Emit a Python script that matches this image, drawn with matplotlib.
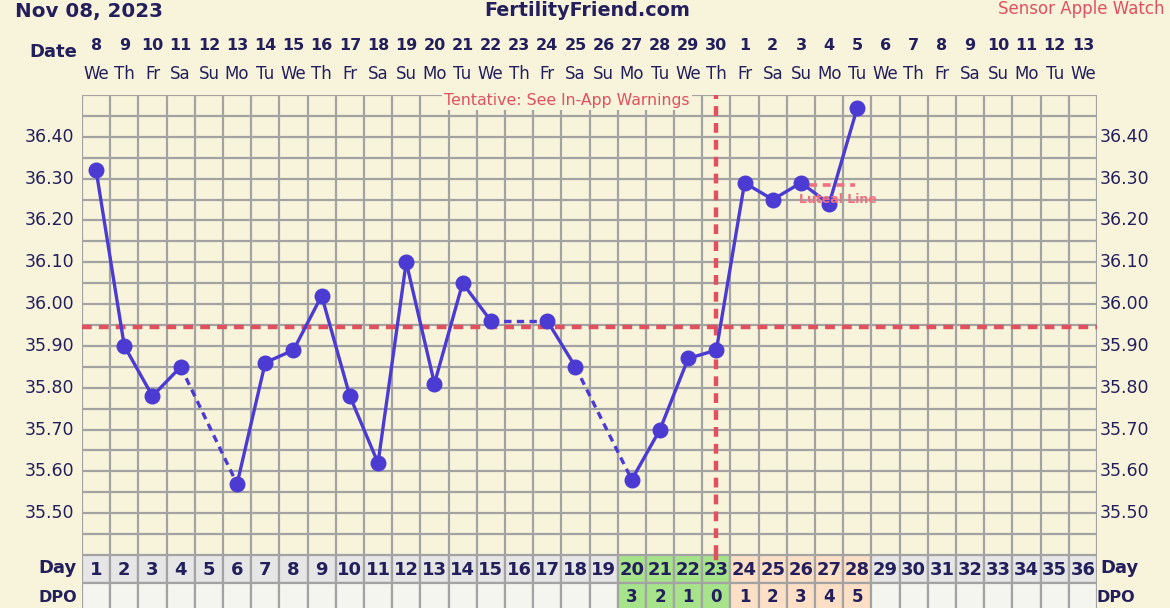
import matplotlib
matplotlib.use("Agg")
import matplotlib.pyplot as plt
import matplotlib.transforms as mtransforms
import numpy as np

# ---------------- data ----------------
cycle_days = list(range(1, 37))
date_nums = [8, 9, 10, 11, 12, 13, 14, 15, 16, 17, 18, 19, 20, 21, 22, 23, 24, 25, 26,
             27, 28, 29, 30, 1, 2, 3, 4, 5, 6, 7, 8, 9, 10, 11, 12, 13]
weekdays = (["We", "Th", "Fr", "Sa", "Su", "Mo", "Tu"] * 6)[:36]
# temperatures per cycle day (None = not recorded)
temps = [36.32, 35.90, 35.78, 35.85, None, 35.57, 35.86, 35.89, 36.02, 35.78,
         35.62, 36.10, 35.81, 36.05, 35.96, None, 35.96, 35.85, None, 35.58,
         35.70, 35.87, 35.89, 36.29, 36.25, 36.29, 36.24, 36.47]
dpo_labels = {20: "3", 21: "2", 22: "1", 23: "0", 24: "1", 25: "2", 26: "3", 27: "4", 28: "5"}
fertile_days = [20, 21, 22, 23]
luteal_days = [24, 25, 26, 27, 28]
coverline = 35.945
ovulation_day = 23
luteal_line_value = 36.285
luteal_line_span = [26.3, 27.9]
y_ticks = [35.50, 35.60, 35.70, 35.80, 35.90, 36.00, 36.10, 36.20, 36.30, 36.40]

# ---------------- style ----------------
BG = "#F8F4DC"
GRID = "#A3A3A3"
NAVY = "#231F5C"
LINE = "#4B3BD2"
RED = "#E0505E"
PINK = "#F07080"
GRAYCELL = "#E6E6E6"
LIGHTCELL = "#F5F5F0"
GREEN = "#A6E38A"
PEACH = "#FDDFC6"

W, H = 1170, 608
fig = plt.figure(figsize=(W / 100, H / 100), dpi=100, facecolor=BG)

x0, x1 = 82, 1097
ytop, ybot = 95, 555

def fx(px):
    return px / W

def fy(py):
    return 1 - py / H

ax = fig.add_axes([fx(x0), fy(ybot), fx(x1) - fx(x0), fy(ytop) - fy(ybot)])
ax.set_facecolor(BG)
ax.set_xlim(0.5, 36.5)
ax.set_ylim(35.40, 36.50)

# grid
for xb in np.arange(0.5, 37, 1):
    ax.axvline(xb, color=GRID, lw=1.6, zorder=1)
for yb in np.arange(35.40, 36.51, 0.05):
    ax.axhline(yb, color=GRID, lw=1.6, zorder=1)
ax.set_xticks([])
ax.set_yticks([])
for s in ax.spines.values():
    s.set_visible(False)

# temperature line: solid between consecutive days, dashed across gaps
pts = [(d, t) for d, t in zip(cycle_days, temps) if t is not None]
for (da, ta), (db, tb) in zip(pts[:-1], pts[1:]):
    ls = "-" if db - da == 1 else (0, (2.2, 1.6))
    ax.plot([da, db], [ta, tb], color=LINE, lw=2.4, ls=ls, zorder=4,
            solid_capstyle="round")
ax.plot([p[0] for p in pts], [p[1] for p in pts], "o", color=LINE, ms=10.5, zorder=5)

# coverline and ovulation line
ax.axhline(coverline, color=RED, lw=3.2, ls=(0, (2.2, 1.6)), zorder=3)
ax.plot([ovulation_day, ovulation_day], [35.40, 36.50], color=RED, lw=3.2,
        ls=(0, (2.2, 1.6)), zorder=3, clip_on=False)
# luteal line
ax.plot(luteal_line_span, [luteal_line_value] * 2, color=PINK, lw=2.6,
        ls=(0, (2.2, 1.6)), zorder=3)
ax.text(27.3, luteal_line_value - 0.035, "Luteal Line", color=PINK, fontsize=9,
        fontweight="bold", ha="center", va="center", zorder=6)

# tentative label
ax.text(17.7, 36.488, "Tentative: See In-App Warnings", color=RED, fontsize=11.3,
        ha="center", va="center", zorder=6,
        bbox=dict(facecolor=BG, edgecolor="none", pad=1.5))

# y tick labels on both sides
for v in y_ticks:
    ax.text(-0.0075, v, f"{v:.2f}", transform=ax.get_yaxis_transform(),
            ha="right", va="center", fontsize=12.5, color=NAVY)
    ax.text(1.003, v, f"{v:.2f}", transform=ax.get_yaxis_transform(),
            ha="left", va="center", fontsize=12.5, color=NAVY)

# date labels on top
blend = mtransforms.blended_transform_factory(ax.transData, fig.transFigure)
for d, n, w in zip(cycle_days, date_nums, weekdays):
    ax.text(d, fy(46), str(n), transform=blend,
            ha="center", va="center", fontsize=11.5, fontweight="bold", color=NAVY)
    ax.text(d, fy(74), w, transform=blend,
            ha="center", va="center", fontsize=12, color=NAVY)
fig.text(fx(77), fy(52), "Date", ha="right", va="center", fontsize=13,
         fontweight="bold", color=NAVY)

# header
fig.text(fx(15), fy(11), "Nov 08, 2023", ha="left", va="center", fontsize=14.3,
         fontweight="bold", color=NAVY)
fig.text(fx(587), fy(11), "FertilityFriend.com", ha="center", va="center",
         fontsize=13.8, fontweight="bold", color=NAVY)
fig.text(fx(1165), fy(9), "Sensor Apple Watch", ha="right", va="center",
         fontsize=12, color=RED)

# ---------------- Day / DPO table ----------------
row_h = 28
tab = fig.add_axes([fx(x0), fy(ybot + 2 * row_h), fx(x1) - fx(x0), row_h * 2 / H])
tab.set_xlim(0.5, 36.5)
tab.set_ylim(0, 2)
tab.set_facecolor(BG)
tab.set_xticks([])
tab.set_yticks([])
for s in tab.spines.values():
    s.set_visible(False)

for d in cycle_days:
    if d in fertile_days:
        cday, cdpo = GREEN, GREEN
    elif d in luteal_days:
        cday, cdpo = PEACH, PEACH
    else:
        cday, cdpo = GRAYCELL, LIGHTCELL
    tab.add_patch(plt.Rectangle((d - 0.5, 1), 1, 1, facecolor=cday, edgecolor=GRID, lw=1.6, zorder=1))
    tab.add_patch(plt.Rectangle((d - 0.5, 0), 1, 1, facecolor=cdpo, edgecolor=GRID, lw=1.6, zorder=1))
    tab.text(d, 1.45, str(d), ha="center", va="center", fontsize=13,
             fontweight="bold", color=NAVY, zorder=2)
    if d in dpo_labels:
        tab.text(d, 0.5, dpo_labels[d], ha="center", va="center", fontsize=12,
                 fontweight="bold", color=NAVY, zorder=2)

# ovulation line continues into the top of the day row
tab.plot([ovulation_day, ovulation_day], [2.0, 1.9], color=RED, lw=3.2, zorder=3)

fig.text(fx(77), fy(568), "Day", ha="right", va="center", fontsize=13,
         fontweight="bold", color=NAVY)
fig.text(fx(1100), fy(568), "Day", ha="left", va="center", fontsize=13,
         fontweight="bold", color=NAVY)
fig.text(fx(77), fy(597), "DPO", ha="right", va="center", fontsize=11.5,
         fontweight="bold", color=NAVY)
fig.text(fx(1097), fy(597), "DPO", ha="left", va="center", fontsize=11.5,
         fontweight="bold", color=NAVY)

fig.savefig("out.png", dpi=100, facecolor=BG)
